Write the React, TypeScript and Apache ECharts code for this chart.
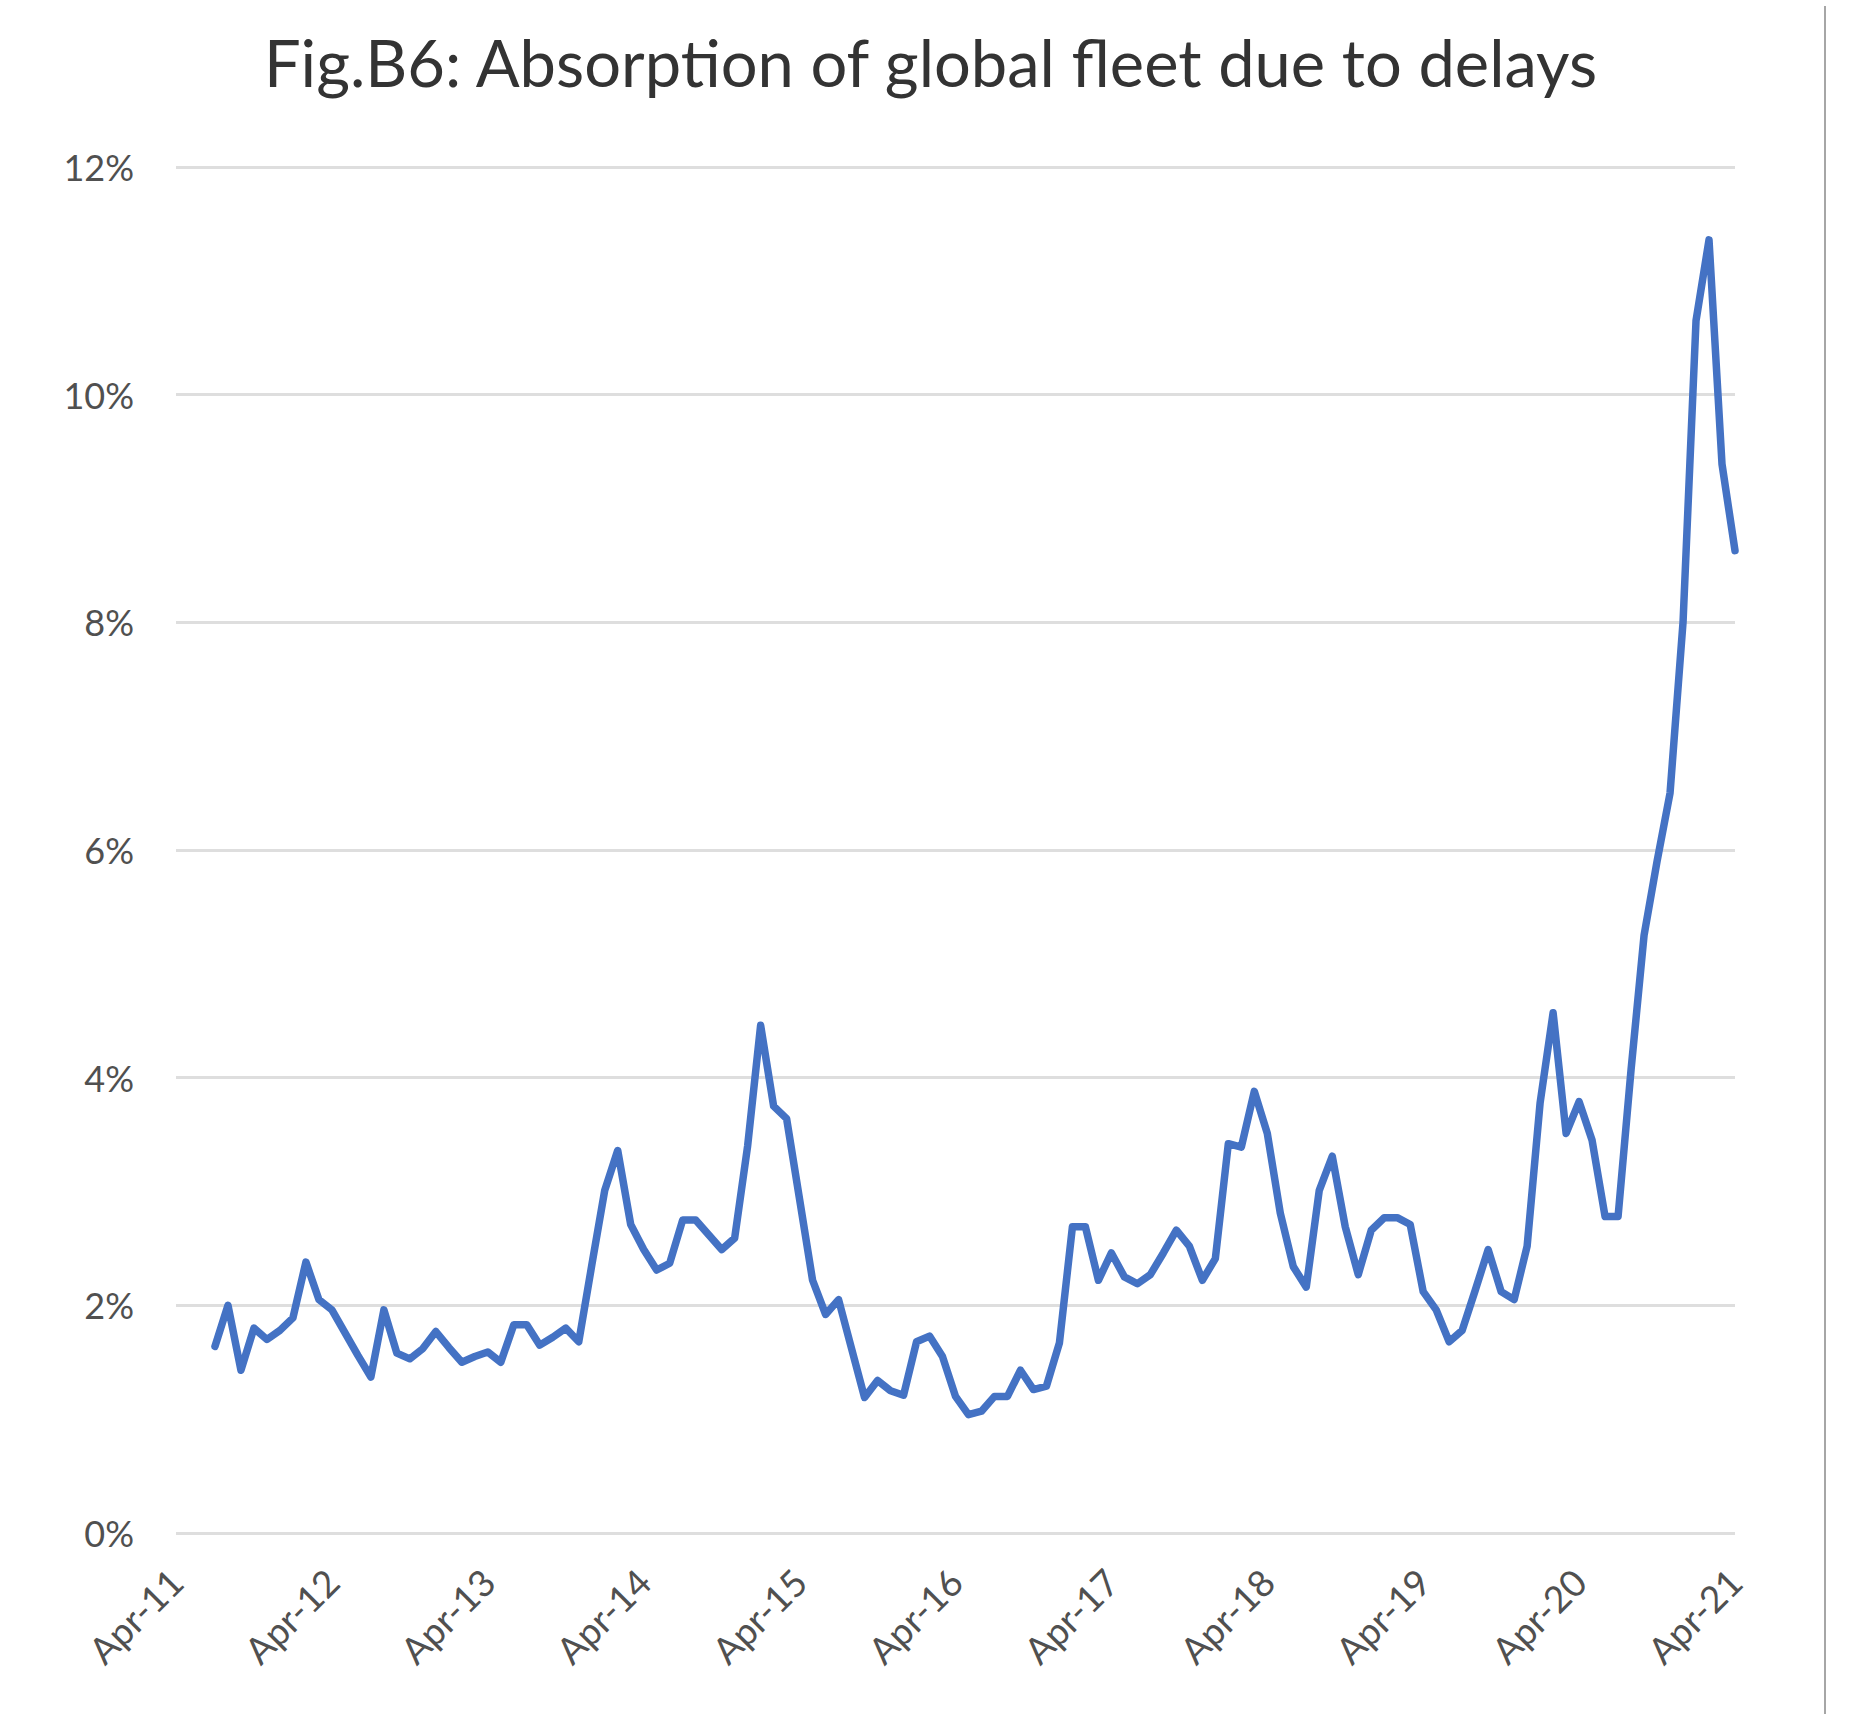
import React, { useEffect, useRef } from "react";
import * as echarts from "echarts";

// Monthly categories, Apr-11 through Apr-21
const MONTHS = ["Jan", "Feb", "Mar", "Apr", "May", "Jun", "Jul", "Aug", "Sep", "Oct", "Nov", "Dec"];
const categories: string[] = [];
for (let i = 0; i <= 120; i++) {
  const m = (3 + i) % 12;
  const y = 11 + Math.floor((3 + i) / 12);
  categories.push(`${MONTHS[m]}-${y}`);
}

// Share of the global fleet absorbed by delays (%), one array per Apr–Mar year
const y2011 = [null, null, null, 1.64, 2.0, 1.43, 1.8, 1.7, 1.78, 1.89, 2.38, 2.05];
const y2012 = [1.96, 1.76, 1.56, 1.37, 1.96, 1.58, 1.53, 1.62, 1.77, 1.63, 1.5, 1.55];
const y2013 = [1.59, 1.5, 1.83, 1.83, 1.65, 1.72, 1.8, 1.68, 2.35, 3.01, 3.36, 2.71];
const y2014 = [2.49, 2.31, 2.37, 2.75, 2.75, 2.62, 2.49, 2.59, 3.4, 4.46, 3.75, 3.64];
const y2015 = [2.93, 2.22, 1.92, 2.05, 1.62, 1.19, 1.34, 1.25, 1.21, 1.68, 1.73, 1.55];
const y2016 = [1.2, 1.04, 1.07, 1.2, 1.2, 1.43, 1.26, 1.29, 1.67, 2.69, 2.69, 2.22];
const y2017 = [2.46, 2.25, 2.19, 2.27, 2.46, 2.66, 2.52, 2.22, 2.41, 3.42, 3.39, 3.88];
const y2018 = [3.51, 2.81, 2.34, 2.16, 3.01, 3.31, 2.69, 2.27, 2.66, 2.77, 2.77, 2.71];
const y2019 = [2.12, 1.96, 1.68, 1.78, 2.13, 2.49, 2.12, 2.05, 2.52, 3.78, 4.57, 3.51];
const y2020 = [3.79, 3.45, 2.78, 2.78, 4.07, 5.25, 5.9, 6.5, 8.0, 10.65, 11.36, 9.39];
const y2021 = [8.63];

const absorption = [
  ...y2011, ...y2012, ...y2013, ...y2014, ...y2015, ...y2016,
  ...y2017, ...y2018, ...y2019, ...y2020, ...y2021,
];

const TITLE = "Fig.B6: Absorption of global fleet due to delays";
const FONT = "Lato, 'Noto Sans', sans-serif";

export default function App() {
  const ref = useRef<HTMLDivElement>(null);

  useEffect(() => {
    if (!ref.current) return;
    const chart = echarts.init(ref.current, null, { renderer: "svg" });
    chart.setOption({
      animation: false,
      backgroundColor: "#ffffff",
      title: {
        text: TITLE,
        left: "center",
        top: 24,
        textStyle: { fontFamily: FONT, fontSize: 65, fontWeight: "normal", color: "#333333" },
      },
      grid: { left: 176, right: 126, top: 167, bottom: 181, containLabel: false },
      xAxis: {
        type: "category",
        data: categories,
        boundaryGap: false,
        axisLine: { show: false },
        axisTick: { show: false },
        splitLine: { show: false },
        axisLabel: {
          interval: 11,
          rotate: 45,
          margin: 42,
          fontFamily: FONT,
          fontSize: 37,
          color: "#505050",
        },
      },
      yAxis: {
        type: "value",
        min: 0,
        max: 12,
        interval: 2,
        axisLine: { show: false },
        axisTick: { show: false },
        axisLabel: {
          margin: 42,
          fontFamily: FONT,
          fontSize: 36,
          color: "#505050",
          formatter: "{value}%",
        },
        splitLine: { lineStyle: { color: "#dedede", width: 3 } },
      },
      series: [
        {
          type: "line",
          data: absorption,
          showSymbol: false,
          connectNulls: false,
          lineStyle: { color: "#4472c4", width: 7.5, cap: "round", join: "round" },
        },
      ],
      graphic: [
        {
          type: "line",
          shape: { x1: 1825, y1: 6, x2: 1825, y2: 1714 },
          style: { stroke: "#a6a6a6", lineWidth: 2 },
        },
      ],
    });
    return () => chart.dispose();
  }, []);

  return (
    <div
      ref={ref}
      style={{ position: "absolute", left: 0, top: 0, width: 1861, height: 1714 }}
    />
  );
}
